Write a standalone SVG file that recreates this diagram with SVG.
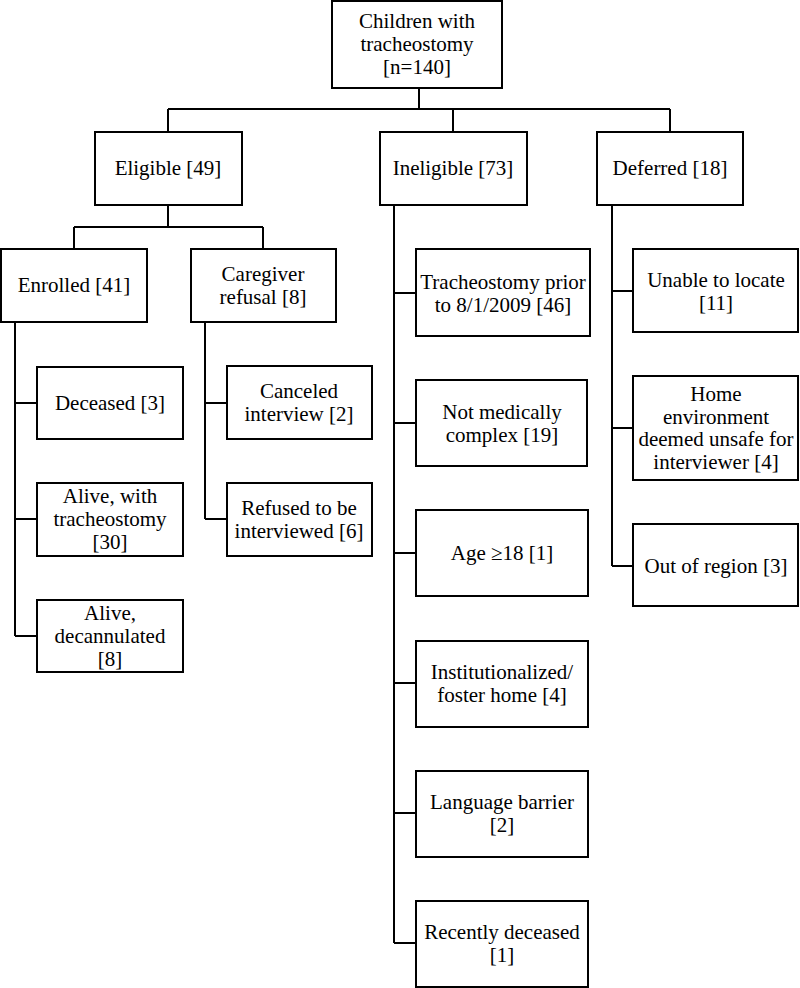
<svg xmlns="http://www.w3.org/2000/svg" width="800" height="988" viewBox="0 0 800 988">
<style>
rect{fill:#fff;stroke:#000;stroke-width:2}
.c path{fill:none;stroke:#000;stroke-width:2}
text{font-family:'Liberation Serif','Times New Roman',serif;font-size:21px;fill:#000;text-anchor:middle}
</style>
<rect x="0" y="0" width="800" height="988" style="stroke:none"/>
<g class="c" id="connectors">
<path d="M419 88V109M168 109H670M168 109V132M453 109V132M670 109V132"/>
<path d="M168 205V227M74 227H263M74 227V249M263 227V249"/>
<path d="M15 322V636M15 403H37M15 519H37M15 636H37"/>
<path d="M205 322V519M205 403H227M205 519H227"/>
<path d="M394 205V943M394 293H416M394 423H416M394 553H416M394 683H416M394 813H416M394 943H416"/>
<path d="M612 205V566M612 291H633M612 428H633M612 566H633"/>
</g>
<g id="root"><rect x="332" y="1" width="170" height="87"/><text x="417"><tspan x="417" y="28">Children with</tspan><tspan x="417" y="51">tracheostomy</tspan><tspan x="417" y="74">[n=140]</tspan></text></g>
<g id="eligible"><rect x="95" y="132" width="147" height="73"/><text x="168" y="175">Eligible [49]</text></g>
<g id="ineligible"><rect x="380" y="132" width="147" height="73"/><text x="453" y="175">Ineligible [73]</text></g>
<g id="deferred"><rect x="597" y="132" width="146" height="73"/><text x="670" y="175">Deferred [18]</text></g>
<g id="enrolled"><rect x="1" y="249" width="146" height="73"/><text x="74" y="292">Enrolled [41]</text></g>
<g id="refusal"><rect x="191" y="249" width="145" height="73"/><text x="263"><tspan x="263" y="281">Caregiver</tspan><tspan x="263" y="304">refusal [8]</tspan></text></g>
<g id="deceased"><rect x="37" y="367" width="146" height="72"/><text x="110" y="410">Deceased [3]</text></g>
<g id="alive-trach"><rect x="37" y="483" width="146" height="73"/><text x="110"><tspan x="110" y="503">Alive, with</tspan><tspan x="110" y="526">tracheostomy</tspan><tspan x="110" y="549">[30]</tspan></text></g>
<g id="alive-decan"><rect x="37" y="600" width="146" height="72"/><text x="110"><tspan x="110" y="620">Alive,</tspan><tspan x="110" y="643">decannulated</tspan><tspan x="110" y="666">[8]</tspan></text></g>
<g id="canceled"><rect x="227" y="366" width="145" height="73"/><text x="299"><tspan x="299" y="398">Canceled</tspan><tspan x="299" y="421">interview [2]</tspan></text></g>
<g id="refused"><rect x="227" y="483" width="145" height="73"/><text x="299"><tspan x="299" y="515">Refused to be</tspan><tspan x="299" y="538">interviewed [6]</tspan></text></g>
<g id="trach-prior"><rect x="416" y="249" width="174" height="87"/><text x="503"><tspan x="503" y="289">Tracheostomy prior</tspan><tspan x="503" y="312">to 8/1/2009 [46]</tspan></text></g>
<g id="not-complex"><rect x="416" y="380" width="171" height="86"/><text x="502"><tspan x="502" y="419">Not medically</tspan><tspan x="502" y="442">complex [19]</tspan></text></g>
<g id="age"><rect x="416" y="510" width="172" height="86"/><text x="502" y="560">Age ≥18 [1]</text></g>
<g id="institutional"><rect x="416" y="641" width="172" height="86"/><text x="502"><tspan x="502" y="679">Institutionalized/</tspan><tspan x="502" y="702">foster home [4]</tspan></text></g>
<g id="language"><rect x="416" y="771" width="172" height="86"/><text x="502"><tspan x="502" y="809">Language barrier</tspan><tspan x="502" y="832">[2]</tspan></text></g>
<g id="recently"><rect x="416" y="901" width="172" height="86"/><text x="502"><tspan x="502" y="939">Recently deceased</tspan><tspan x="502" y="962">[1]</tspan></text></g>
<g id="unable"><rect x="633" y="249" width="165" height="83"/><text x="716"><tspan x="716" y="287">Unable to locate</tspan><tspan x="716" y="310">[11]</tspan></text></g>
<g id="home"><rect x="633" y="376" width="165" height="104"/><text x="716"><tspan x="716" y="401">Home</tspan><tspan x="716" y="424">environment</tspan><tspan x="716" y="446">deemed unsafe for</tspan><tspan x="716" y="469">interviewer [4]</tspan></text></g>
<g id="out-region"><rect x="633" y="524" width="165" height="82"/><text x="716" y="573">Out of region [3]</text></g>
</svg>
